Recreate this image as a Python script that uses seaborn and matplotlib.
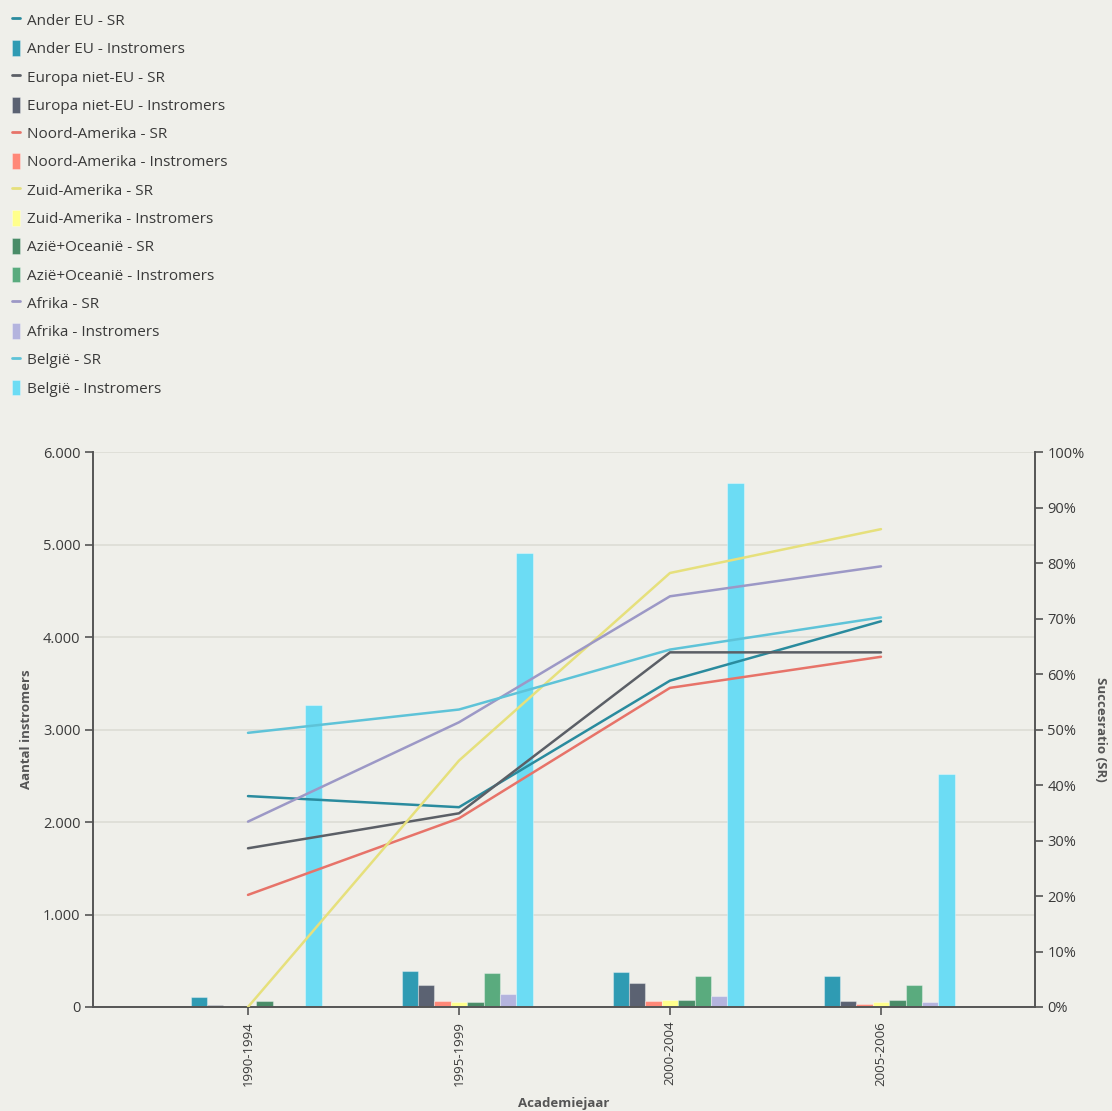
import numpy as np
import pandas as pd
import matplotlib
matplotlib.use("Agg")
import matplotlib.pyplot as plt
from matplotlib.lines import Line2D
from matplotlib.patches import Patch
from matplotlib.ticker import FuncFormatter, MultipleLocator
import seaborn as sns

# ---- data -------------------------------------------------------------
categories = ["1990-1994", "1995-1999", "2000-2004", "2005-2006"]

# number of incoming students (left axis)
ander_eu_in = [110, 390, 375, 330]
europa_niet_eu_in = [25, 240, 255, 70]
noord_amerika_in = [0, 65, 60, 35]
zuid_amerika_in = [0, 55, 80, 50]
azie_oceanie_sr_bar = [65, 55, 80, 80]
azie_oceanie_in = [15, 370, 330, 235]
afrika_in = [0, 140, 115, 50]
belgie_in = [3265, 4905, 5665, 2520]

# success ratio in percent (right axis)
ander_eu_sr = [38.0, 36.0, 58.8, 69.5]
europa_niet_eu_sr = [28.6, 34.9, 63.9, 63.9]
noord_amerika_sr = [20.2, 34.0, 57.5, 63.1]
zuid_amerika_sr = [0.0, 44.4, 78.2, 86.1]
afrika_sr = [33.4, 51.3, 74.0, 79.4]
belgie_sr = [49.4, 53.6, 64.4, 70.2]

bar_series = [
    ("Ander EU - Instromers", ander_eu_in, "#2f9bb3"),
    ("Europa niet-EU - Instromers", europa_niet_eu_in, "#5b6272"),
    ("Noord-Amerika - Instromers", noord_amerika_in, "#ff8878"),
    ("Zuid-Amerika - Instromers", zuid_amerika_in, "#ffff8c"),
    ("Azië+Oceanië - SR", azie_oceanie_sr_bar, "#4a8c68"),
    ("Azië+Oceanië - Instromers", azie_oceanie_in, "#5aab7e"),
    ("Afrika - Instromers", afrika_in, "#b4b4de"),
    ("België - Instromers", belgie_in, "#6cdcf4"),
]
line_series = [
    ("Ander EU - SR", ander_eu_sr, "#2a8b9e"),
    ("Europa niet-EU - SR", europa_niet_eu_sr, "#5b5f66"),
    ("Noord-Amerika - SR", noord_amerika_sr, "#e77369"),
    ("Zuid-Amerika - SR", zuid_amerika_sr, "#e6e07c"),
    ("Afrika - SR", afrika_sr, "#9c98c6"),
    ("België - SR", belgie_sr, "#5ec3d8"),
]

legend_order = [
    "Ander EU - SR", "Ander EU - Instromers",
    "Europa niet-EU - SR", "Europa niet-EU - Instromers",
    "Noord-Amerika - SR", "Noord-Amerika - Instromers",
    "Zuid-Amerika - SR", "Zuid-Amerika - Instromers",
    "Azië+Oceanië - SR", "Azië+Oceanië - Instromers",
    "Afrika - SR", "Afrika - Instromers",
    "België - SR", "België - Instromers",
]

# ---- styling ----------------------------------------------------------
BG = "#efefea"
TXT = "#3a3a3a"
AXC = "#555555"
LBL = "#555555"
sns.set_theme(style="white")
plt.rcParams["font.family"] = ["Open Sans", "DejaVu Sans"]
plt.rcParams["axes.facecolor"] = BG
plt.rcParams["figure.facecolor"] = BG

W, H = 1112, 1111
fig = plt.figure(figsize=(W / 100, H / 100), dpi=100)
ax = fig.add_axes([93 / W, (H - 1007) / H, 942 / W, 555 / H])
ax.set_facecolor(BG)

n_bars = len(bar_series)
group_width = 0.62
bw = group_width / n_bars
x_idx = np.arange(len(categories))

# bars: long-form frame; groups shifted so the 4th bar sits on the tick
bar_rows = []
for name, vals, _ in bar_series:
    for i, v in enumerate(vals):
        bar_rows.append({"pos": x_idx[i] + bw / 2, "series": name, "value": v})
bar_df = pd.DataFrame(bar_rows)
bar_palette = {name: c for name, _, c in bar_series}

sns.barplot(
    data=bar_df, x="pos", y="value", hue="series",
    hue_order=[b[0] for b in bar_series], palette=bar_palette,
    native_scale=True, width=group_width, dodge=True, legend=False,
    edgecolor=(1, 1, 1, 0.35), linewidth=0.8, saturation=1, ax=ax,
)

ax.set_xlim(-0.7346, 3.730)
ax.set_ylim(0, 6000)
ax.yaxis.set_major_locator(MultipleLocator(1000))
ax.yaxis.set_major_formatter(FuncFormatter(lambda v, p: f"{int(v):,}".replace(",", ".")))
ax.set_xticks(x_idx)
ax.set_xticklabels(categories, rotation=90)
ax.grid(axis="y", color="#dcdcd5", linewidth=1.2)
ax.set_axisbelow(True)

# success-ratio lines on a twin axis
ax2 = ax.twinx()
line_rows = []
for name, vals, _ in line_series:
    for i, v in enumerate(vals):
        line_rows.append({"pos": x_idx[i], "series": name, "sr": v})
line_df = pd.DataFrame(line_rows)
line_palette = {name: c for name, _, c in line_series}
sns.lineplot(
    data=line_df, x="pos", y="sr", hue="series",
    hue_order=[l[0] for l in line_series], palette=line_palette,
    linewidth=1.8, legend=False, ax=ax2, sort=False,
)
ax2.set_ylim(0, 100)
ax2.yaxis.set_major_locator(MultipleLocator(10))
ax2.yaxis.set_major_formatter(FuncFormatter(lambda v, p: f"{int(round(v))}%"))
ax2.set_xlim(-0.7346, 3.730)

# axes and ticks
for a in (ax, ax2):
    a.spines["top"].set_visible(False)
    for s in ("left", "right", "bottom"):
        a.spines[s].set_color(AXC)
        a.spines[s].set_linewidth(1.4)
ax.spines["right"].set_visible(False)
ax2.spines["left"].set_visible(False)
ax2.spines["bottom"].set_visible(False)

ax.tick_params(axis="y", direction="out", length=6, width=1.2, color=AXC,
               labelsize=10.5, labelcolor=TXT, pad=3, left=True)
ax.tick_params(axis="x", direction="out", length=6, width=1.2, color=AXC,
               labelsize=9.5, labelcolor=TXT, pad=4, bottom=True)
ax2.tick_params(axis="y", direction="out", length=6, width=1.2, color=AXC,
                labelsize=10.5, labelcolor=TXT, pad=3, right=True)

ax.set_xlabel("Academiejaar", fontsize=9.5, fontweight="bold", color=LBL)
ax.xaxis.set_label_coords(0.5, -0.163)
ax.set_ylabel("Aantal instromers", fontsize=9.5, fontweight="bold", color=LBL)
ax.yaxis.set_label_coords(-0.064, 0.5)
ax2.set_ylabel("Succesratio (SR)", fontsize=9.5, fontweight="bold", color=LBL,
               rotation=270)
ax2.yaxis.set_label_coords(1.076, 0.5)

# legend
handles = {}
for name, _, c in line_series:
    handles[name] = Line2D([0], [0], color=c, linewidth=2)
for name, _, c in bar_series:
    handles[name] = Patch(facecolor=c, edgecolor=(1, 1, 1, 0.35), linewidth=0.6)
fig.legend(
    [handles[n] for n in legend_order], legend_order,
    loc="upper left", bbox_to_anchor=(12 / W, 1 - 12 / H),
    frameon=False, fontsize=11, labelcolor=TXT,
    handlelength=0.5, handleheight=1.2, handletextpad=0.45,
    labelspacing=0.74, borderpad=0, borderaxespad=0,
)

fig.savefig("out.png", dpi=100, facecolor=BG)
